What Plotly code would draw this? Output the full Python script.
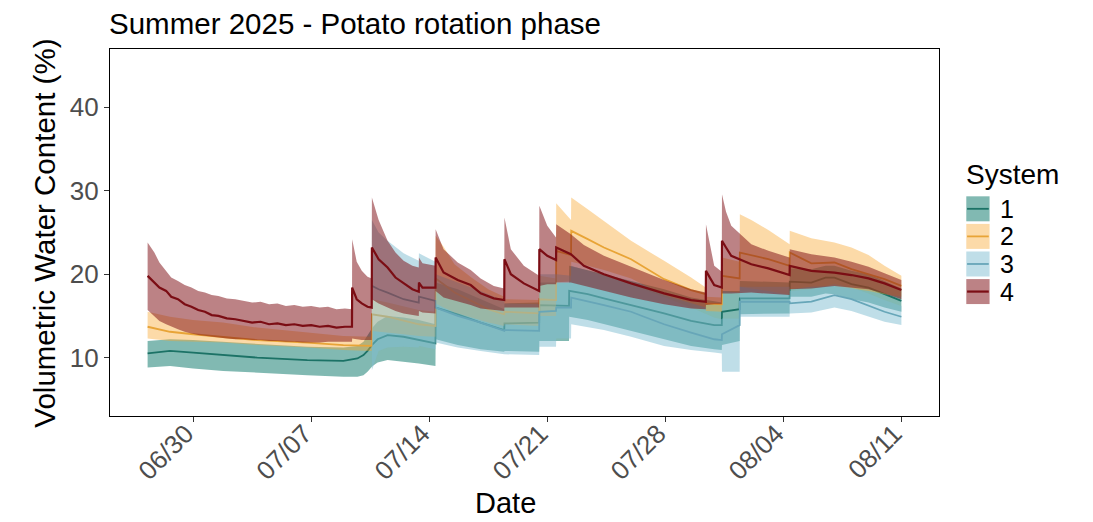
import pandas as pd
import plotly.graph_objects as go

# ---------------- data (day offsets from 2025-06-30 00:00) ----------------
BASE = pd.Timestamp("2025-06-30")

systems = ["1", "2", "3", "4"]

# System 1
s1_day = [-2.70, -1.37, 0.00, 1.78, 3.80, 6.77, 8.91, 9.74, 10.10, 10.34, 10.64, 10.94, 11.53, 12.48,
          13.38, 14.37, 14.38, 15.69, 17.05, 18.45, 18.46, 20.52, 20.53, 22.29, 22.30, 23.40, 24.36,
          25.97, 27.93, 29.53, 30.90, 31.35, 31.36, 32.41, 32.42, 35.37, 35.38, 36.66, 37.50, 38.03,
          39.04, 40.05, 41.00, 42.00]
s1_mean = [10.5, 10.8, 10.6, 10.3, 10.0, 9.7, 9.6, 9.9, 10.3, 10.8, 11.6, 12.2, 12.7, 12.5,
           12.1, 11.7, 16.0, 15.2, 14.2, 13.3, 14.1, 14.2, 16.3, 16.2, 18.0, 17.6, 17.1,
           16.3, 15.3, 14.4, 13.9, 13.9, 15.5, 15.8, 17.1, 17.1, 19.1, 19.0, 19.6, 19.6,
           18.8, 18.4, 17.6, 16.8]
s1_low = [8.8, 9.0, 8.7, 8.4, 8.2, 7.9, 7.7, 7.7, 7.9, 8.3, 9.0, 9.4, 9.7, 9.5,
          9.3, 9.0, 12.2, 11.5, 11.0, 10.7, 10.8, 10.7, 12.0, 12.0, 14.9, 14.5, 14.0,
          13.2, 12.2, 11.4, 11.0, 10.9, 11.5, 12.0, 15.2, 15.3, 17.3, 17.3, 17.7, 17.6,
          17.0, 16.6, 16.0, 15.5]
s1_high = [12.0, 12.2, 12.1, 11.9, 11.6, 11.3, 11.2, 11.4, 11.9, 12.6, 13.6, 14.3, 15.0, 14.8,
           14.5, 14.0, 19.0, 18.2, 17.0, 15.8, 16.5, 16.6, 19.0, 19.0, 21.0, 20.5, 20.0,
           19.2, 18.2, 17.2, 16.7, 16.6, 18.0, 18.0, 19.2, 19.0, 20.7, 20.6, 21.0, 21.0,
           20.4, 20.0, 19.2, 18.3]

# System 2
s2_day = [-2.70, -1.37, 0.00, 1.78, 3.80, 6.77, 8.91, 10.59, 10.60, 11.53, 12.48, 13.38, 14.37,
          14.38, 14.85, 15.50, 16.50, 17.50, 18.45, 18.46, 20.52, 20.53, 21.52, 21.53, 22.41, 22.42,
          23.40, 24.36, 25.97, 27.93, 29.53, 30.40, 30.41, 31.35, 31.36, 32.41, 32.42, 33.10, 34.11,
          35.37, 35.38, 36.66, 38.03, 39.04, 40.05, 41.00, 42.00]
s2_mean = [13.7, 13.1, 12.8, 12.5, 12.1, 11.8, 11.5, 11.4, 15.2, 14.9, 14.4, 14.0, 13.8,
           19.5, 18.8, 17.8, 16.8, 15.8, 15.2, 15.5, 15.3, 17.0, 16.9, 22.8, 22.3, 25.2,
           24.2, 23.2, 21.8, 19.4, 18.1, 17.6, 16.5, 16.4, 19.8, 19.5, 22.6, 22.3, 21.8,
           21.0, 22.6, 21.3, 21.4, 20.6, 20.0, 19.4, 18.6]
s2_low = [12.3, 12.0, 11.9, 11.8, 11.5, 11.2, 10.9, 10.8, 13.2, 13.0, 12.8, 12.6, 12.5,
          16.5, 16.0, 15.4, 14.8, 14.2, 13.8, 14.0, 13.8, 15.0, 15.0, 19.0, 19.2, 21.5,
          21.0, 20.5, 19.5, 17.5, 16.5, 16.0, 15.6, 15.5, 18.0, 17.8, 18.5, 18.3, 18.0,
          17.5, 18.2, 18.5, 18.6, 18.3, 18.0, 17.6, 17.3]
s2_high = [15.5, 14.9, 14.5, 14.2, 13.6, 13.0, 12.6, 12.5, 17.0, 16.6, 16.1, 15.7, 15.5,
           24.6, 23.3, 21.2, 19.6, 18.2, 17.3, 17.0, 16.9, 19.8, 19.5, 28.5, 26.5, 29.2,
           27.8, 26.4, 24.0, 21.6, 19.6, 18.4, 17.3, 17.2, 22.0, 21.5, 27.2, 26.5, 25.3,
           23.6, 25.2, 24.3, 23.8, 23.2, 22.3, 21.0, 19.8]

# System 3
s3_day = [10.60, 11.00, 11.53, 12.48, 13.38, 13.39, 14.37, 14.38, 15.69, 17.05, 18.45, 18.46,
          20.52, 20.53, 21.52, 21.53, 22.41, 22.42, 24.36, 25.97, 26.74, 27.93, 29.53, 30.90,
          31.35, 31.36, 32.41, 32.42, 35.37, 35.38, 36.66, 38.03, 39.04, 40.05, 41.00, 42.00]
s3_mean = [18.6, 18.2, 17.8, 17.0, 16.6, 17.3, 16.8, 16.0, 15.0, 14.2, 13.2, 13.3,
           13.2, 15.5, 15.6, 16.0, 16.0, 17.2, 16.3, 15.5, 14.9, 14.0, 13.0, 12.2,
           12.1, 12.8, 13.9, 16.7, 16.7, 16.5, 16.7, 17.5, 17.0, 16.2, 15.5, 14.9]
s3_low = [8.5, 10.8, 11.2, 11.3, 11.2, 11.4, 11.0, 11.8, 11.2, 10.8, 10.4, 10.4,
          10.3, 11.3, 11.3, 12.3, 12.3, 14.0, 13.3, 12.5, 12.1, 11.4, 10.9, 10.6,
          10.5, 8.3, 8.3, 14.9, 14.9, 15.3, 15.4, 16.0, 15.6, 14.9, 14.3, 13.9]
s3_high = [26.5, 25.0, 24.0, 22.5, 21.6, 22.5, 21.5, 20.0, 19.0, 18.0, 16.8, 16.5,
           16.4, 20.0, 20.0, 20.0, 19.8, 21.0, 19.8, 18.8, 18.2, 17.3, 16.0, 14.8,
           14.6, 14.7, 14.7, 18.5, 18.5, 18.0, 18.2, 18.8, 18.4, 17.7, 16.9, 16.2]

# System 4
s4_day = [-2.70, -2.30, -2.00, -1.60, -1.30, -0.90, -0.50, -0.10, 0.30, 0.70, 1.10, 1.50, 2.00,
          2.50, 3.00, 3.50, 4.00, 4.50, 5.00, 5.50, 6.00, 6.50, 7.00, 7.50, 8.00, 8.50, 9.00,
          9.42, 9.43, 9.70, 10.00, 10.34, 10.59, 10.60, 11.00, 11.53, 12.00, 12.48, 13.00, 13.38,
          13.39, 13.60, 14.37, 14.38, 14.85, 15.69, 16.46, 17.05, 17.83, 18.45, 18.46, 18.84,
          19.61, 20.52, 20.53, 21.00, 21.52, 21.53, 22.40, 23.17, 24.36, 25.97, 27.93, 29.53,
          30.40, 30.41, 30.90, 31.35, 31.36, 31.60, 31.91, 33.10, 34.11, 35.37, 35.38, 36.66,
          38.03, 39.04, 40.05, 41.00, 42.00]
s4_mean = [19.8, 19.0, 18.4, 18.0, 17.3, 17.0, 16.4, 16.1, 15.7, 15.5, 15.1, 15.0, 14.7,
           14.6, 14.4, 14.2, 14.3, 14.0, 14.1, 13.9, 14.0, 13.8, 13.9, 13.7, 13.8, 13.6, 13.7,
           13.7, 18.4, 17.0, 16.5, 16.1, 16.0, 23.2, 21.8, 20.8, 19.6, 18.9, 18.2, 17.9,
           19.0, 18.4, 18.4, 22.0, 20.2, 19.3, 18.7, 17.7, 17.1, 16.9, 21.8, 20.0,
           18.9, 18.0, 23.0, 22.2, 21.7, 23.2, 22.4, 21.0, 20.0, 18.9, 17.7, 16.9,
           16.7, 20.4, 18.7, 18.4, 24.0, 23.2, 22.2, 21.2, 20.7, 19.9, 21.0, 20.4,
           20.2, 19.9, 19.5, 18.9, 18.1]
s4_low = [15.7, 15.0, 14.4, 14.0, 13.7, 13.4, 13.1, 12.9, 12.7, 12.6, 12.5, 12.4, 12.3,
          12.2, 12.2, 12.1, 12.1, 12.0, 12.0, 11.9, 11.9, 11.8, 11.8, 11.8, 11.9, 11.9, 11.9,
          11.9, 12.3, 12.2, 12.1, 12.1, 12.1, 17.0, 16.5, 16.0, 15.6, 15.3, 15.1, 15.0,
          15.6, 15.4, 15.3, 18.0, 17.2, 16.7, 16.3, 15.9, 15.7, 15.6, 16.0, 16.0,
          16.0, 16.0, 18.6, 18.8, 18.8, 19.0, 19.0, 18.6, 18.0, 17.2, 16.4, 15.9,
          15.8, 16.3, 16.4, 16.4, 17.7, 17.7, 17.7, 17.8, 17.7, 17.5, 18.2, 18.3,
          18.6, 18.4, 18.2, 17.7, 17.0]
s4_high = [23.8, 22.6, 21.4, 20.3, 19.6, 19.2, 18.7, 18.4, 18.0, 17.8, 17.5, 17.4, 17.1,
           17.0, 16.8, 16.6, 16.7, 16.4, 16.5, 16.2, 16.3, 16.1, 16.2, 16.0, 16.1, 15.8, 15.9,
           15.8, 24.2, 21.5, 20.4, 19.7, 19.5, 29.2, 26.5, 24.0, 22.6, 21.6, 21.0, 20.8,
           22.0, 21.3, 21.0, 25.4, 23.0, 21.4, 20.5, 19.5, 18.6, 18.3, 26.8, 23.0,
           21.0, 19.8, 28.2, 25.8, 24.4, 26.0, 24.8, 23.5, 22.2, 20.9, 19.3, 18.2,
           17.8, 26.0, 21.0, 20.3, 29.6, 27.5, 25.8, 23.6, 22.8, 22.0, 23.0, 22.4,
           22.0, 21.5, 20.9, 20.1, 19.3]

tick_days = [0, 7, 14, 21, 28, 35, 42]
tick_labels = ["06/30", "07/07", "07/14", "07/21", "07/28", "08/04", "08/11"]
y_ticks = [10, 20, 30, 40]

# ---------------- styling ----------------
FONT = "Liberation Sans, Arial, Helvetica, sans-serif"
ribbon_fill = ["rgba(26,127,114,0.55)", "rgba(248,168,48,0.42)",
               "rgba(127,189,210,0.50)", "rgba(127,15,22,0.52)"]
line_col = ["#1c7266", "#e8a437", "#67a6b8", "#7b0d14"]
line_w = [1.8, 1.8, 1.8, 2.2]

series = [
    (s1_day, s1_mean, s1_low, s1_high),
    (s2_day, s2_mean, s2_low, s2_high),
    (s3_day, s3_mean, s3_low, s3_high),
    (s4_day, s4_mean, s4_low, s4_high),
]


def to_time(days):
    return list(BASE + pd.to_timedelta(days, unit="D"))


fig = go.Figure()
for i, (d, m, lo, hi) in enumerate(series):
    t = to_time(d)
    fig.add_trace(go.Scatter(
        x=t + t[::-1], y=list(hi) + list(lo)[::-1],
        fill="toself", fillcolor=ribbon_fill[i], mode="lines",
        line=dict(width=0, color=ribbon_fill[i]), hoverinfo="skip",
        showlegend=False, name="System " + systems[i] + " range"))
    fig.add_trace(go.Scatter(
        x=t, y=m, mode="lines", line=dict(color=line_col[i], width=line_w[i]),
        showlegend=False, name="System " + systems[i]))

# plot area in pixels
L, R, T, B = 110, 939.4, 49.3, 416.5
W, H = 1093, 522


def px(xp):
    return (xp - L) / (R - L)


def py(yp):
    return (B - yp) / (B - T)


shapes = []
annotations = []
# manual legend
annotations.append(dict(text="System", xref="paper", yref="paper", x=px(964), y=py(175),
                        xanchor="left", yanchor="middle", showarrow=False,
                        font=dict(size=28, color="black", family=FONT)))
for i, s in enumerate(systems):
    top = 196.7 + 27.6 * i
    bot = top + 25
    shapes.append(dict(type="rect", xref="paper", yref="paper", x0=px(966.7), x1=px(990),
                       y0=py(bot), y1=py(top), fillcolor=ribbon_fill[i], line=dict(width=0),
                       layer="above"))
    shapes.append(dict(type="line", xref="paper", yref="paper", x0=px(967.5), x1=px(989.2),
                       y0=py((top + bot) / 2), y1=py((top + bot) / 2),
                       line=dict(color=line_col[i], width=line_w[i]), layer="above"))
    annotations.append(dict(text=s, xref="paper", yref="paper", x=px(998), y=py((top + bot) / 2),
                            xanchor="left", yanchor="middle", showarrow=False,
                            font=dict(size=25, color="black", family=FONT)))

# axis titles
annotations.append(dict(text="Volumetric Water Content (%)", xref="paper", yref="paper",
                        x=px(45), y=py(234), textangle=-90, xanchor="center", yanchor="middle",
                        showarrow=False, font=dict(size=29.5, color="black", family=FONT)))
annotations.append(dict(text="Date", xref="paper", yref="paper", x=px(506), y=py(504),
                        xanchor="center", yanchor="middle", showarrow=False,
                        font=dict(size=29, color="black", family=FONT)))

fig.update_layout(
    width=W, height=H,
    margin=dict(l=L, r=W - R, t=T, b=H - B),
    paper_bgcolor="white", plot_bgcolor="white",
    showlegend=False,
    title=dict(text="Summer 2025 - Potato rotation phase", xref="container", x=109 / W,
               xanchor="left", yref="container", y=1 - 24 / H, yanchor="middle",
               font=dict(size=29.5, color="black", family=FONT)),
    xaxis=dict(range=to_time([-4.93, 44.23]), tickvals=to_time(tick_days), ticktext=tick_labels,
               tickangle=-45, ticks="outside", ticklen=5, tickwidth=1, tickcolor="#333333",
               ticklabelstandoff=-14, ticklabelshift=-7,
               showline=True, linecolor="black", linewidth=1.3, mirror=True,
               showgrid=False, zeroline=False,
               tickfont=dict(size=26, color="#4d4d4d", family=FONT)),
    yaxis=dict(range=[3, 47], tickvals=y_ticks, ticks="outside", ticklen=5, tickwidth=1,
               tickcolor="#333333", showline=True, linecolor="black", linewidth=1.3,
               mirror=True, showgrid=False, zeroline=False,
               tickfont=dict(size=26, color="#4d4d4d", family=FONT)),
    shapes=shapes, annotations=annotations,
)

fig.write_html("out.html", config={"displayModeBar": False},
               post_script="document.body.style.margin='0';")
